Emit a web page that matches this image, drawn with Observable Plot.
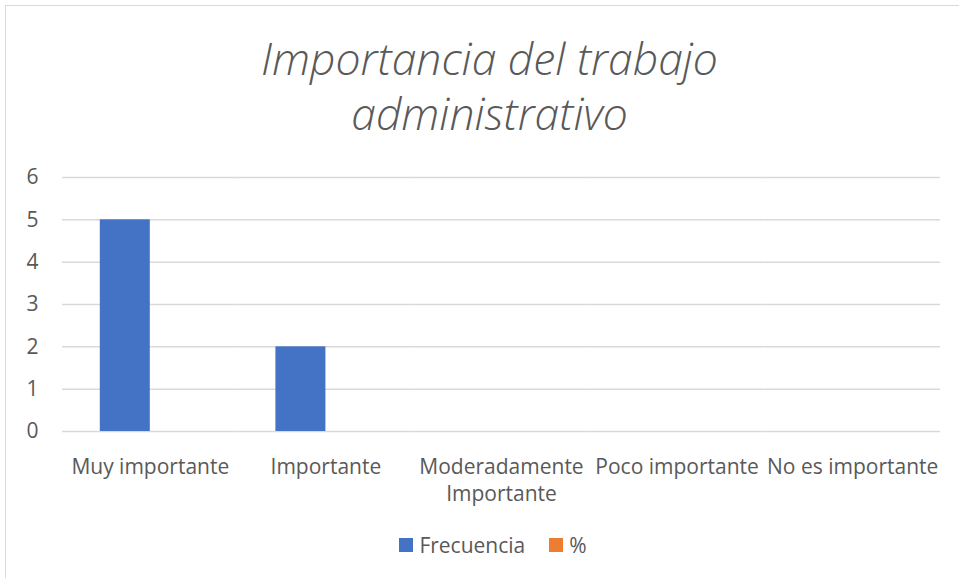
<!DOCTYPE html>
<html>
<head>
<meta charset="utf-8">
<script src="https://cdn.jsdelivr.net/npm/d3@7"></script>
<script src="https://cdn.jsdelivr.net/npm/@observablehq/plot@0.6"></script>
<style>
  html, body { margin: 0; padding: 0; background: #fff; }
  body { width: 959px; height: 578px; overflow: hidden; position: relative; font-family: "Open Sans", sans-serif; color: #595959; }
  #frame { position: absolute; left: 5px; top: 5px; width: 1000px; height: 700px; border: 1px solid #d9d9d9; box-sizing: border-box; pointer-events: none; }
  #title { height: 150px; box-sizing: border-box; padding-top: 30px; padding-left: 20px; text-align: center; font-style: italic; font-weight: 300; font-size: 44.5px; line-height: 55px; color: #595959; }
  #chart svg { display: block; }
  #legend { box-sizing: border-box; padding-top: 22px; padding-left: 27px; text-align: center; font-size: 21px; line-height: 24px; color: #595959; }
  .item { display: inline-flex; align-items: center; margin: 0 12px; }
  .sw { display: inline-block; width: 14px; height: 14px; margin-right: 6px; }
</style>
</head>
<body>
<div id="frame"></div>
<div id="title">Importancia del trabajo<br>administrativo</div>
<div id="chart"></div>
<div id="legend"></div>
<script>
const categories = ["Muy importante", "Importante", "Moderadamente Importante", "Poco importante", "No es importante"];
const series = ["Frecuencia", "%"];
const frecuencia = [5, 2, 0, 0, 0];
const porcentaje = [0, 0, 0, 0, 0];
const colors = ["#4472C4", "#ED7D31"];
const yTicks = [0, 1, 2, 3, 4, 5, 6];

const rows = [];
categories.forEach((c, i) => {
  rows.push({category: c, series: series[0], value: frecuencia[i]});
  rows.push({category: c, series: series[1], value: porcentaje[i]});
});

const fmt = d => d === "Moderadamente Importante" ? "Moderadamente\nImportante" : d;

const chart = Plot.plot({
  width: 959,
  height: 360,
  marginLeft: 62,
  marginRight: 19,
  marginTop: 27,
  marginBottom: 79,
  style: {fontFamily: "Open Sans", fontSize: "21px", color: "#595959", background: "transparent"},
  fx: {domain: categories, padding: 0, round: false, label: null, axis: null},
  x: {domain: series, axis: null, paddingInner: 0, paddingOuter: 0.756, round: false},
  y: {domain: [0, 6], label: null, axis: null},
  color: {domain: series, range: colors},
  marks: [
    Plot.gridY(yTicks, {stroke: "#d9d9d9", strokeOpacity: 1, strokeWidth: 1.5}),
    Plot.barY(rows, {fx: "category", x: "series", y: "value", fill: "series"}),
    Plot.axisY(yTicks, {tickSize: 0, tickPadding: 24, label: null, fill: "#595959", fontSize: 21}),
    Plot.axisFx({anchor: "bottom", tickSize: 0, tickPadding: 23, label: null, tickFormat: fmt, lineHeight: 1.3, fill: "#595959", fontSize: 21})
  ]
});
document.getElementById("chart").appendChild(chart);

const legend = document.getElementById("legend");
series.forEach((s, i) => {
  const item = document.createElement("span");
  item.className = "item";
  const sw = document.createElement("span");
  sw.className = "sw";
  sw.style.background = colors[i];
  item.appendChild(sw);
  item.appendChild(document.createTextNode(s));
  legend.appendChild(item);
});
</script>
</body>
</html>
